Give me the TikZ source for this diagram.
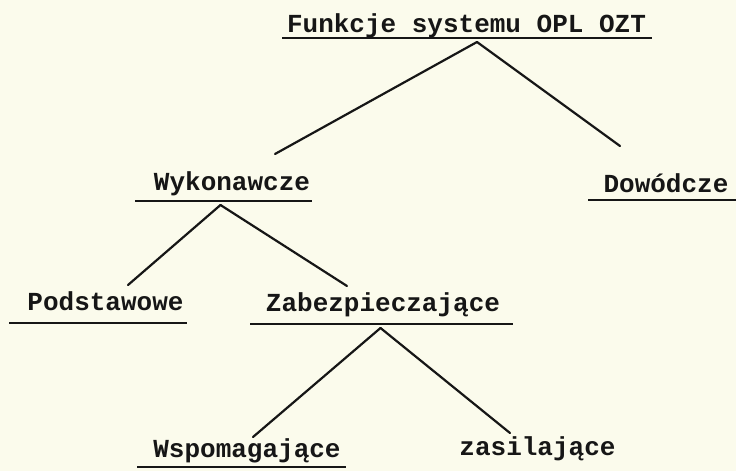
\documentclass[tikz,border=0pt]{standalone}
\usepackage{fontspec}
\newfontfamily\typewr{Liberation Mono}
\definecolor{paper}{RGB}{251,251,236}
\definecolor{ink}{RGB}{22,22,22}
\begin{document}
\begin{tikzpicture}[
        x=1pt, y=-1pt,
        lab/.style={font=\typewr\bfseries\fontsize{26}{30}\selectfont, text=ink, inner sep=0pt, anchor=base},
        uline/.style={draw=ink, line width=2.3pt},
        branch/.style={draw=ink, line width=2.2pt, line cap=round}
    ]
        \useasboundingbox[fill=paper] (0,0) rectangle (736,471);

        % labels
        \node[lab] (fun) at (466.5,32) {Funkcje systemu OPL OZT};
        \node[lab] (wyk) at (232,190) {Wykonawcze};
        \node[lab] (dow) at (666,192) {Dowódcze};
        \node[lab] (pod) at (105.5,310) {Podstawowe};
        \node[lab] (zab) at (383,311) {Zabezpieczające};
        \node[lab] (wsp) at (247,457) {Wspomagające};
        \node[lab] (zas) at (537.5,455) {zasilające};

        % underlines
        \foreach \y/\a/\b in {38/282/652, 201/135/312, 200/588/736,
                              323/9/187, 324/250/513, 467/137/346}
            \draw[uline] (\a,\y) -- (\b,\y);

        % fork points and branch ends
        \coordinate (fun-fork) at (477,42);
        \coordinate (wyk-fork) at (220.5,205);
        \coordinate (zab-fork) at (380.5,328);
        \coordinate (wyk-end) at (275,154);
        \coordinate (dow-end) at (620,146);
        \coordinate (pod-end) at (128,285);
        \coordinate (zab-end) at (347,286);
        \coordinate (wsp-end) at (253,437);
        \coordinate (zas-end) at (510,433);

        \foreach \p/\c in {fun/wyk, fun/dow, wyk/pod, wyk/zab, zab/wsp, zab/zas}
            \draw[branch] (\p-fork) -- (\c-end);
    \end{tikzpicture}
\end{document}
